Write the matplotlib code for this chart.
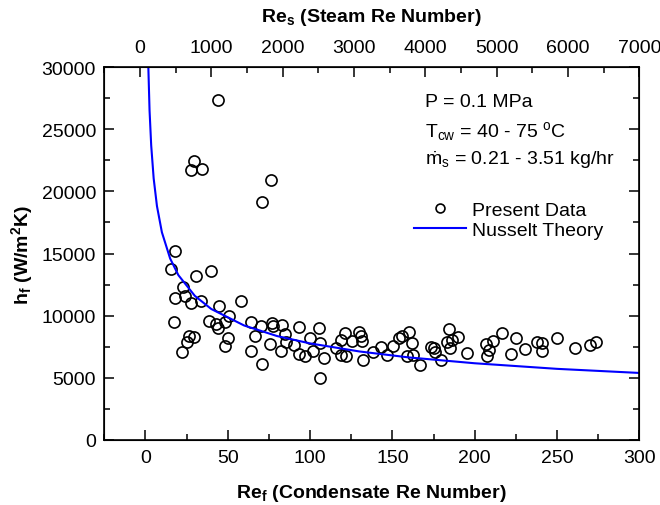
import matplotlib
matplotlib.use('Agg')
import matplotlib.pyplot as plt
from matplotlib.ticker import MultipleLocator

plt.rcParams['font.family'] = ['Liberation Sans', 'DejaVu Sans']
plt.rcParams['mathtext.fontset'] = 'custom'
plt.rcParams['mathtext.rm'] = 'Liberation Sans'
plt.rcParams['mathtext.it'] = 'Liberation Sans:italic'
plt.rcParams['mathtext.bf'] = 'Liberation Sans:bold'

# measured data (Re_f, h_f)
re_f = [44.0, 29.4, 27.4, 34.5, 76.5, 70.6,
        17.8, 15.8, 30.8, 40.0, 22.7, 17.8, 23.9, 27.6, 33.9, 57.8, 44.6,
        17.6, 38.5, 43.0, 44.2, 48.5, 50.5, 26.4, 29.8, 25.2, 22.1, 50.3,
        48.5, 63.9, 66.3, 70.2, 76.7, 77.5, 82.8, 84.6, 85.2, 75.5, 63.9,
        82.6, 71.0, 90.1, 93.1, 93.1,
        96.8, 99.8, 101.8, 105.5, 106.3, 108.5, 105.9, 115.6, 118.7, 121.1,
        119.1, 122.1, 125.2, 129.6, 130.9, 131.3, 131.9, 138.3, 143.4, 146.9,
        150.5, 154.0, 155.6, 160.1, 161.7, 158.7, 162.3, 166.8, 173.3, 175.3,
        176.1, 179.4, 183.0, 184.6, 186.1, 190.1, 185.0, 195.2,
        206.9, 207.3, 208.7, 211.4, 216.5, 221.9, 225.2, 230.7, 238.1, 240.8,
        240.8, 249.9, 261.1, 270.2, 273.7]
h_f = [27370, 22430, 21750, 21810, 20950, 19150,
       15200, 13730, 13190, 13560, 12330, 11390, 11600, 11040, 11200, 11150, 10750,
       9510, 9560, 9300, 9020, 9510, 9940, 8380, 8300, 7850, 7040, 8190,
       7570, 9480, 8380, 9180, 9380, 9130, 9240, 8520, 7850, 7690, 7170,
       7120, 6070, 7630, 9080, 6900,
       6720, 8170, 7170, 8970, 7790, 6610, 4950, 7360, 8060, 8570,
       6820, 6770, 7980, 8700, 8380, 7980, 6420, 7040, 7440, 6820,
       7570, 8170, 8330, 8650, 7790, 6770, 6820, 6020, 7490, 7390,
       7090, 6450, 7850, 8920, 8060, 8300, 7390, 6980,
       7710, 6770, 7230, 7980, 8570, 6900, 8190, 7310, 7900, 7770,
       7170, 8190, 7360, 7650, 7900]

# Nusselt theory curve
nu_re = [1.6, 2.5, 3.5, 5, 7, 10, 15, 20, 30, 40, 60, 80, 100, 130, 160, 200, 250, 300]
nu_h = [30800, 26530, 23710, 21050, 18820, 16710, 14600, 13260, 11590, 10530,
        9200, 8350, 7760, 7110, 6630, 6160, 5710, 5380]

fig = plt.figure(figsize=(6.6, 5.06), dpi=100)
ax = fig.add_axes([0.158, 0.129, 0.8106, 0.736])

ax.plot(re_f, h_f, 'o', mfc='none', mec='black', ms=8, mew=1.2, label='Present Data')
ax.plot(nu_re, nu_h, color='#0000ff', lw=1.5, label='Nusselt Theory')

ax.set_xlim(-25, 300)
ax.set_ylim(0, 30000)
ax.xaxis.set_major_locator(MultipleLocator(50))
ax.xaxis.set_minor_locator(MultipleLocator(25))
ax.yaxis.set_major_locator(MultipleLocator(5000))
ax.yaxis.set_minor_locator(MultipleLocator(2500))
ax.tick_params(which='both', direction='in', top=False, right=True, width=1.1, labelsize=14)
ax.tick_params(which='major', length=7)
ax.tick_params(which='minor', length=4)
ax.tick_params(axis='x', pad=7)
ax.tick_params(axis='y', pad=6)
for s in ax.spines.values():
    s.set_linewidth(1.2)

ax2 = ax.twiny()
ax2.set_xlim(-500, 7000)
ax2.xaxis.set_major_locator(MultipleLocator(1000))
ax2.xaxis.set_minor_locator(MultipleLocator(500))
ax2.tick_params(which='both', direction='in', width=1.1, labelsize=14, pad=8)
ax2.tick_params(which='major', length=7)
ax2.tick_params(which='minor', length=4)

ax.set_xlabel(r'$\mathbf{Re_f}$ (Condensate Re Number)', fontsize=14, fontweight='bold', labelpad=11)
ax2.set_xlabel(r'$\mathbf{Re_s}$ (Steam Re Number)', fontsize=14, fontweight='bold', labelpad=13)
ax.set_ylabel(r'$\mathbf{h_f}$ (W/m$^\mathbf{2}$K)', fontsize=14, fontweight='bold', labelpad=5)

ax.text(0.6, 0.907, 'P = 0.1 MPa', transform=ax.transAxes, fontsize=14, va='center')
ax.text(0.6, 0.830, r'T$_{\mathrm{cw}}$ = 40 - 75 $^{\mathrm{o}}$C', transform=ax.transAxes, fontsize=14, va='center')
ax.text(0.6, 0.754, r'$\dot{\mathrm{m}}_{\mathrm{s}}$ = 0.21 - 3.51 kg/hr', transform=ax.transAxes, fontsize=14, va='center')

ax.legend(loc='upper left', bbox_to_anchor=(0.578, 0.64), frameon=False, fontsize=14,
          handlelength=2.7, handletextpad=0.3, labelspacing=0.1, markerscale=0.8,
          borderpad=0, borderaxespad=0)

fig.savefig('out.png', dpi=100)
